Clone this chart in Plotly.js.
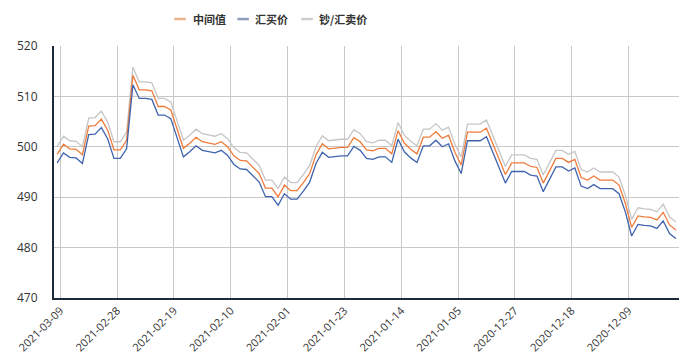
<!DOCTYPE html>
<html>
<head>
<meta charset="utf-8">
<script src="https://cdn.plot.ly/plotly-3.0.1.min.js"></script>
<style>
html,body{margin:0;padding:0;background:#fff;}
#chart{width:683px;height:361px;}
</style>
</head>
<body>
<div id="chart"></div>
<script>
// Dates (newest first, as displayed left to right)
const dates = [
'2021-03-09','2021-03-08','2021-03-07','2021-03-06','2021-03-05','2021-03-04','2021-03-03','2021-03-02','2021-03-01',
'2021-02-28','2021-02-27','2021-02-26','2021-02-25','2021-02-24','2021-02-23','2021-02-22','2021-02-21','2021-02-20','2021-02-19',
'2021-02-18','2021-02-17','2021-02-16','2021-02-15','2021-02-14','2021-02-13','2021-02-12','2021-02-11','2021-02-10','2021-02-09',
'2021-02-08','2021-02-07','2021-02-06','2021-02-05','2021-02-04','2021-02-03','2021-02-02','2021-02-01',
'2021-01-31','2021-01-30','2021-01-29','2021-01-28','2021-01-27','2021-01-26','2021-01-25','2021-01-24','2021-01-23','2021-01-22',
'2021-01-21','2021-01-20','2021-01-19','2021-01-18','2021-01-17','2021-01-16','2021-01-15','2021-01-14','2021-01-13','2021-01-12',
'2021-01-11','2021-01-10','2021-01-09','2021-01-08','2021-01-07','2021-01-06','2021-01-05','2021-01-04','2021-01-03','2021-01-02','2021-01-01',
'2020-12-31','2020-12-30','2020-12-29','2020-12-28','2020-12-27','2020-12-26','2020-12-25','2020-12-24','2020-12-23','2020-12-22',
'2020-12-21','2020-12-20','2020-12-19','2020-12-18','2020-12-17','2020-12-16','2020-12-15','2020-12-14','2020-12-13','2020-12-12',
'2020-12-11','2020-12-10','2020-12-09','2020-12-08','2020-12-07','2020-12-06','2020-12-05','2020-12-04','2020-12-03','2020-12-02','2020-12-01'
];

// 中间值
const midRate = [
498.5, 500.5, 499.6, 499.5, 498.4, 504.1, 504.2, 505.5, 503.3, 499.4,
499.4, 501.3, 514.2, 511.3, 511.3, 511.1, 508.0, 508.0, 507.3, 503.3,
499.7, 500.7, 501.9, 501.0, 500.8, 500.5, 501.0, 500.0, 498.2, 497.3,
497.2, 496.0, 494.7, 491.8, 491.8, 490.1, 492.4, 491.3, 491.3, 492.9,
494.7, 498.4, 500.6, 499.6, 499.8, 499.9, 499.9, 501.8, 501.0, 499.4,
499.2, 499.7, 499.7, 498.6, 503.2, 500.7, 499.5, 498.6, 501.9, 501.9,
503.0, 501.7, 502.3, 498.9, 496.4, 502.9, 502.9, 502.9, 503.7, 500.7,
497.5, 494.5, 496.8, 496.8, 496.8, 496.1, 495.9, 492.8, 495.1, 497.7,
497.7, 496.9, 497.5, 493.9, 493.4, 494.2, 493.4, 493.4, 493.4, 492.4,
488.8, 484.0, 486.3, 486.1, 486.0, 485.5, 487.0, 484.5, 483.5
];

// 汇买价
const buyRate = [
496.8, 498.8, 497.9, 497.8, 496.7, 502.4, 502.5, 503.8, 501.6, 497.7,
497.7, 499.6, 512.3, 509.6, 509.6, 509.4, 506.3, 506.3, 505.6, 501.6,
498.0, 499.0, 500.2, 499.3, 499.1, 498.8, 499.3, 498.3, 496.5, 495.6,
495.5, 494.3, 493.0, 490.1, 490.1, 488.4, 490.7, 489.6, 489.6, 491.2,
493.0, 496.7, 498.9, 497.9, 498.1, 498.2, 498.2, 500.1, 499.3, 497.7,
497.5, 498.0, 498.0, 496.9, 501.5, 499.0, 497.8, 496.9, 500.2, 500.2,
501.3, 500.0, 500.6, 497.2, 494.7, 501.2, 501.2, 501.2, 502.0, 499.0,
495.8, 492.8, 495.1, 495.1, 495.1, 494.4, 494.2, 491.1, 493.4, 496.0,
496.0, 495.2, 495.8, 492.2, 491.7, 492.5, 491.7, 491.7, 491.7, 490.7,
487.1, 482.3, 484.6, 484.4, 484.3, 483.8, 485.3, 482.8, 481.8
];

// 钞/汇卖价
const sellRate = [
500.1, 502.1, 501.2, 501.1, 500.0, 505.7, 505.8, 507.1, 504.9, 501.0,
501.0, 502.9, 515.8, 512.9, 512.9, 512.7, 509.6, 509.6, 508.9, 504.9,
501.3, 502.3, 503.5, 502.6, 502.4, 502.1, 502.6, 501.6, 499.8, 498.9,
498.8, 497.6, 496.3, 493.4, 493.4, 491.7, 494.0, 492.9, 492.9, 494.5,
496.3, 500.0, 502.2, 501.2, 501.4, 501.5, 501.5, 503.4, 502.6, 501.0,
500.8, 501.3, 501.3, 500.2, 504.8, 502.3, 501.1, 500.2, 503.5, 503.5,
504.6, 503.3, 503.9, 500.5, 498.0, 504.5, 504.5, 504.5, 505.3, 502.3,
499.1, 496.1, 498.4, 498.4, 498.4, 497.7, 497.5, 494.4, 496.7, 499.3,
499.3, 498.5, 499.1, 495.5, 495.0, 495.8, 495.0, 495.0, 495.0, 494.0,
490.4, 485.6, 487.9, 487.7, 487.6, 487.1, 488.6, 486.1, 485.1
];

const seriesNames = ['中间值', '汇买价', '钞/汇卖价'];
const tickLabels = ['2021-03-09','2021-02-28','2021-02-19','2021-02-10','2021-02-01','2021-01-23',
                    '2021-01-14','2021-01-05','2020-12-27','2020-12-18','2020-12-09'];
const yTicks = [470, 480, 490, 500, 510, 520];

function shiftHalfDay(d, sign) {
  const t = Date.parse(d + 'T00:00:00Z') + sign * 12 * 3600 * 1000;
  return new Date(t).toISOString().slice(0, 19).replace('T', ' ');
}

const lineColors = ['#ef7b3a', '#3f63ad', '#c6c6c6'];
const legendColors = ['#f0b48c', '#8f9cba', '#cfcfcf'];
const seriesData = [midRate, buyRate, sellRate];

const traces = [2, 0, 1].map(k => ({
  type: 'scatter', mode: 'lines',
  x: dates, y: seriesData[k], name: seriesNames[k],
  line: {color: lineColors[k], width: 1.3},
  showlegend: false, hoverinfo: 'skip'
}));

// legend drawn manually
const legX = [[0.1926, 0.2108, 0.2188], [0.2934, 0.3117, 0.3190], [0.3954, 0.4141, 0.4205]];
const legY = 1.107;
const shapes = legX.map((p, k) => ({
  type: 'line', xref: 'paper', yref: 'paper', x0: p[0], x1: p[1], y0: legY, y1: legY,
  line: {color: legendColors[k], width: 2.5}
}));
const annotations = legX.map((p, k) => ({
  xref: 'paper', yref: 'paper', x: p[2], y: legY, xanchor: 'left', yanchor: 'middle',
  text: '<b>' + seriesNames[k] + '</b>', showarrow: false,
  font: {family: 'Noto Sans CJK SC, sans-serif', size: 11, color: '#333333'}
}));

const layout = {
  width: 683, height: 361,
  margin: {l: 54, r: 4, t: 46, b: 63, pad: 0},
  paper_bgcolor: '#ffffff', plot_bgcolor: '#ffffff',
  showlegend: false,
  xaxis: {
    type: 'date',
    range: [shiftHalfDay(dates[0], 1), shiftHalfDay(dates[dates.length - 1], -1)],
    tickmode: 'array',
    tickvals: tickLabels.map(d => shiftHalfDay(d, -1)),
    ticktext: tickLabels,
    tickangle: -45,
    tickfont: {family: 'Open Sans, sans-serif', size: 11, color: '#333333'},
    showgrid: true, gridcolor: '#c8c8c8', gridwidth: 1,
    showline: true, linecolor: '#1c2a3a', linewidth: 2,
    ticks: '', zeroline: false, fixedrange: true
  },
  yaxis: {
    range: [470, 520],
    tickmode: 'array', tickvals: yTicks, ticktext: yTicks.map(String),
    tickfont: {family: 'Open Sans, sans-serif', size: 12, color: '#333333'},
    showgrid: true, gridcolor: '#c8c8c8', gridwidth: 1,
    showline: true, linecolor: '#1c2a3a', linewidth: 2,
    ticks: '', ticklabelstandoff: 12, zeroline: false, fixedrange: true
  },
  shapes: shapes,
  annotations: annotations
};

Plotly.newPlot('chart', traces, layout, {staticPlot: true, displayModeBar: false});
</script>
</body>
</html>
